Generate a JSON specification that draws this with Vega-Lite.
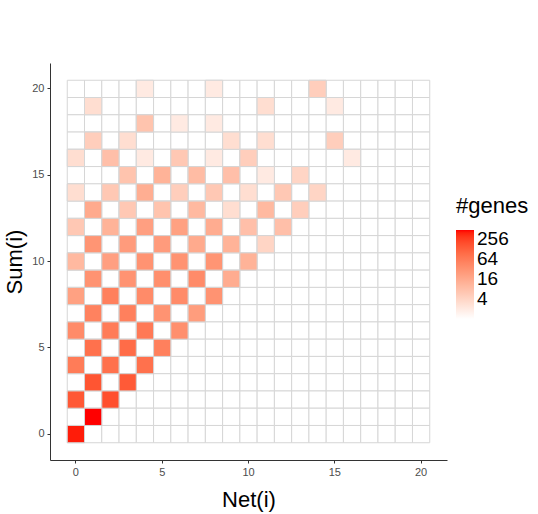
{
  "$schema": "https://vega.github.io/schema/vega-lite/v6.json",
  "width": 397,
  "height": 397,
  "autosize": "none",
  "padding": {"left": 50, "top": 63, "right": 91, "bottom": 54},
  "background": "white",
  "config": {
    "font": "Liberation Sans",
    "view": {"stroke": null},
    "axis": {
      "grid": false,
      "domainColor": "#333333",
      "domainWidth": 1,
      "tickColor": "#333333",
      "tickSize": 3,
      "labelColor": "#4D4D4D",
      "labelFontSize": 11,
      "labelFont": "Liberation Sans",
      "titleFont": "Liberation Sans",
      "titleFontSize": 22,
      "titleFontWeight": "normal",
      "titleColor": "#000000"
    }
  },
  "data": {"values": [
    {"s":20,"n":0},{"s":20,"n":1},{"s":20,"n":2},{"s":20,"n":3},{"s":20,"n":4,"g":2},{"s":20,"n":5},{"s":20,"n":6},{"s":20,"n":7},{"s":20,"n":8,"g":2},{"s":20,"n":9},{"s":20,"n":10},{"s":20,"n":11},{"s":20,"n":12},{"s":20,"n":13},{"s":20,"n":14,"g":5},{"s":20,"n":15},{"s":20,"n":16},{"s":20,"n":17},{"s":20,"n":18},{"s":20,"n":19},{"s":20,"n":20},
    {"s":19,"n":0},{"s":19,"n":1,"g":3},{"s":19,"n":2},{"s":19,"n":3},{"s":19,"n":4},{"s":19,"n":5},{"s":19,"n":6},{"s":19,"n":7},{"s":19,"n":8},{"s":19,"n":9},{"s":19,"n":10},{"s":19,"n":11,"g":3},{"s":19,"n":12},{"s":19,"n":13},{"s":19,"n":14},{"s":19,"n":15,"g":2},{"s":19,"n":16},{"s":19,"n":17},{"s":19,"n":18},{"s":19,"n":19},{"s":19,"n":20},
    {"s":18,"n":0},{"s":18,"n":1},{"s":18,"n":2},{"s":18,"n":3},{"s":18,"n":4,"g":7},{"s":18,"n":5},{"s":18,"n":6,"g":2},{"s":18,"n":7},{"s":18,"n":8,"g":2},{"s":18,"n":9},{"s":18,"n":10},{"s":18,"n":11},{"s":18,"n":12},{"s":18,"n":13},{"s":18,"n":14},{"s":18,"n":15},{"s":18,"n":16},{"s":18,"n":17},{"s":18,"n":18},{"s":18,"n":19},{"s":18,"n":20},
    {"s":17,"n":0},{"s":17,"n":1,"g":5},{"s":17,"n":2},{"s":17,"n":3,"g":3},{"s":17,"n":4},{"s":17,"n":5},{"s":17,"n":6},{"s":17,"n":7},{"s":17,"n":8},{"s":17,"n":9,"g":3},{"s":17,"n":10},{"s":17,"n":11,"g":3},{"s":17,"n":12},{"s":17,"n":13},{"s":17,"n":14},{"s":17,"n":15,"g":5},{"s":17,"n":16},{"s":17,"n":17},{"s":17,"n":18},{"s":17,"n":19},{"s":17,"n":20},
    {"s":16,"n":0,"g":3},{"s":16,"n":1},{"s":16,"n":2,"g":8},{"s":16,"n":3},{"s":16,"n":4,"g":2},{"s":16,"n":5},{"s":16,"n":6,"g":6},{"s":16,"n":7},{"s":16,"n":8,"g":2},{"s":16,"n":9},{"s":16,"n":10,"g":5},{"s":16,"n":11},{"s":16,"n":12},{"s":16,"n":13},{"s":16,"n":14},{"s":16,"n":15},{"s":16,"n":16,"g":2},{"s":16,"n":17},{"s":16,"n":18},{"s":16,"n":19},{"s":16,"n":20},
    {"s":15,"n":0},{"s":15,"n":1},{"s":15,"n":2},{"s":15,"n":3,"g":7},{"s":15,"n":4},{"s":15,"n":5,"g":12},{"s":15,"n":6},{"s":15,"n":7,"g":9},{"s":15,"n":8},{"s":15,"n":9,"g":8},{"s":15,"n":10},{"s":15,"n":11,"g":2},{"s":15,"n":12},{"s":15,"n":13,"g":4},{"s":15,"n":14},{"s":15,"n":15},{"s":15,"n":16},{"s":15,"n":17},{"s":15,"n":18},{"s":15,"n":19},{"s":15,"n":20},
    {"s":14,"n":0,"g":3},{"s":14,"n":1},{"s":14,"n":2,"g":6},{"s":14,"n":3},{"s":14,"n":4,"g":14},{"s":14,"n":5},{"s":14,"n":6,"g":5},{"s":14,"n":7},{"s":14,"n":8,"g":6},{"s":14,"n":9},{"s":14,"n":10,"g":3},{"s":14,"n":11},{"s":14,"n":12,"g":6},{"s":14,"n":13},{"s":14,"n":14,"g":4},{"s":14,"n":15},{"s":14,"n":16},{"s":14,"n":17},{"s":14,"n":18},{"s":14,"n":19},{"s":14,"n":20},
    {"s":13,"n":0},{"s":13,"n":1,"g":16},{"s":13,"n":2},{"s":13,"n":3,"g":6},{"s":13,"n":4},{"s":13,"n":5,"g":7},{"s":13,"n":6},{"s":13,"n":7,"g":10},{"s":13,"n":8},{"s":13,"n":9,"g":3},{"s":13,"n":10},{"s":13,"n":11,"g":10},{"s":13,"n":12},{"s":13,"n":13,"g":5},{"s":13,"n":14},{"s":13,"n":15},{"s":13,"n":16},{"s":13,"n":17},{"s":13,"n":18},{"s":13,"n":19},{"s":13,"n":20},
    {"s":12,"n":0,"g":6},{"s":12,"n":1},{"s":12,"n":2,"g":12},{"s":12,"n":3},{"s":12,"n":4,"g":22},{"s":12,"n":5},{"s":12,"n":6,"g":21},{"s":12,"n":7},{"s":12,"n":8,"g":15},{"s":12,"n":9},{"s":12,"n":10,"g":8},{"s":12,"n":11},{"s":12,"n":12,"g":8},{"s":12,"n":13},{"s":12,"n":14},{"s":12,"n":15},{"s":12,"n":16},{"s":12,"n":17},{"s":12,"n":18},{"s":12,"n":19},{"s":12,"n":20},
    {"s":11,"n":0},{"s":11,"n":1,"g":30},{"s":11,"n":2},{"s":11,"n":3,"g":25},{"s":11,"n":4},{"s":11,"n":5,"g":25},{"s":11,"n":6},{"s":11,"n":7,"g":16},{"s":11,"n":8},{"s":11,"n":9,"g":12},{"s":11,"n":10},{"s":11,"n":11,"g":4},{"s":11,"n":12},{"s":11,"n":13},{"s":11,"n":14},{"s":11,"n":15},{"s":11,"n":16},{"s":11,"n":17},{"s":11,"n":18},{"s":11,"n":19},{"s":11,"n":20},
    {"s":10,"n":0,"g":10},{"s":10,"n":1},{"s":10,"n":2,"g":22},{"s":10,"n":3},{"s":10,"n":4,"g":32},{"s":10,"n":5},{"s":10,"n":6,"g":32},{"s":10,"n":7},{"s":10,"n":8,"g":30},{"s":10,"n":9},{"s":10,"n":10,"g":12},{"s":10,"n":11},{"s":10,"n":12},{"s":10,"n":13},{"s":10,"n":14},{"s":10,"n":15},{"s":10,"n":16},{"s":10,"n":17},{"s":10,"n":18},{"s":10,"n":19},{"s":10,"n":20},
    {"s":9,"n":0},{"s":9,"n":1,"g":32},{"s":9,"n":2},{"s":9,"n":3,"g":32},{"s":9,"n":4},{"s":9,"n":5,"g":36},{"s":9,"n":6},{"s":9,"n":7,"g":40},{"s":9,"n":8},{"s":9,"n":9,"g":15},{"s":9,"n":10},{"s":9,"n":11},{"s":9,"n":12},{"s":9,"n":13},{"s":9,"n":14},{"s":9,"n":15},{"s":9,"n":16},{"s":9,"n":17},{"s":9,"n":18},{"s":9,"n":19},{"s":9,"n":20},
    {"s":8,"n":0,"g":21},{"s":8,"n":1},{"s":8,"n":2,"g":55},{"s":8,"n":3},{"s":8,"n":4,"g":40},{"s":8,"n":5},{"s":8,"n":6,"g":40},{"s":8,"n":7},{"s":8,"n":8,"g":32},{"s":8,"n":9},{"s":8,"n":10},{"s":8,"n":11},{"s":8,"n":12},{"s":8,"n":13},{"s":8,"n":14},{"s":8,"n":15},{"s":8,"n":16},{"s":8,"n":17},{"s":8,"n":18},{"s":8,"n":19},{"s":8,"n":20},
    {"s":7,"n":0},{"s":7,"n":1,"g":52},{"s":7,"n":2},{"s":7,"n":3,"g":55},{"s":7,"n":4},{"s":7,"n":5,"g":32},{"s":7,"n":6},{"s":7,"n":7,"g":24},{"s":7,"n":8},{"s":7,"n":9},{"s":7,"n":10},{"s":7,"n":11},{"s":7,"n":12},{"s":7,"n":13},{"s":7,"n":14},{"s":7,"n":15},{"s":7,"n":16},{"s":7,"n":17},{"s":7,"n":18},{"s":7,"n":19},{"s":7,"n":20},
    {"s":6,"n":0,"g":40},{"s":6,"n":1},{"s":6,"n":2,"g":63},{"s":6,"n":3},{"s":6,"n":4,"g":67},{"s":6,"n":5},{"s":6,"n":6,"g":36},{"s":6,"n":7},{"s":6,"n":8},{"s":6,"n":9},{"s":6,"n":10},{"s":6,"n":11},{"s":6,"n":12},{"s":6,"n":13},{"s":6,"n":14},{"s":6,"n":15},{"s":6,"n":16},{"s":6,"n":17},{"s":6,"n":18},{"s":6,"n":19},{"s":6,"n":20},
    {"s":5,"n":0},{"s":5,"n":1,"g":85},{"s":5,"n":2},{"s":5,"n":3,"g":96},{"s":5,"n":4},{"s":5,"n":5,"g":55},{"s":5,"n":6},{"s":5,"n":7},{"s":5,"n":8},{"s":5,"n":9},{"s":5,"n":10},{"s":5,"n":11},{"s":5,"n":12},{"s":5,"n":13},{"s":5,"n":14},{"s":5,"n":15},{"s":5,"n":16},{"s":5,"n":17},{"s":5,"n":18},{"s":5,"n":19},{"s":5,"n":20},
    {"s":4,"n":0,"g":63},{"s":4,"n":1},{"s":4,"n":2,"g":85},{"s":4,"n":3},{"s":4,"n":4,"g":85},{"s":4,"n":5},{"s":4,"n":6},{"s":4,"n":7},{"s":4,"n":8},{"s":4,"n":9},{"s":4,"n":10},{"s":4,"n":11},{"s":4,"n":12},{"s":4,"n":13},{"s":4,"n":14},{"s":4,"n":15},{"s":4,"n":16},{"s":4,"n":17},{"s":4,"n":18},{"s":4,"n":19},{"s":4,"n":20},
    {"s":3,"n":0},{"s":3,"n":1,"g":170},{"s":3,"n":2},{"s":3,"n":3,"g":150},{"s":3,"n":4},{"s":3,"n":5},{"s":3,"n":6},{"s":3,"n":7},{"s":3,"n":8},{"s":3,"n":9},{"s":3,"n":10},{"s":3,"n":11},{"s":3,"n":12},{"s":3,"n":13},{"s":3,"n":14},{"s":3,"n":15},{"s":3,"n":16},{"s":3,"n":17},{"s":3,"n":18},{"s":3,"n":19},{"s":3,"n":20},
    {"s":2,"n":0,"g":158},{"s":2,"n":1},{"s":2,"n":2,"g":190},{"s":2,"n":3},{"s":2,"n":4},{"s":2,"n":5},{"s":2,"n":6},{"s":2,"n":7},{"s":2,"n":8},{"s":2,"n":9},{"s":2,"n":10},{"s":2,"n":11},{"s":2,"n":12},{"s":2,"n":13},{"s":2,"n":14},{"s":2,"n":15},{"s":2,"n":16},{"s":2,"n":17},{"s":2,"n":18},{"s":2,"n":19},{"s":2,"n":20},
    {"s":1,"n":0},{"s":1,"n":1,"g":490},{"s":1,"n":2},{"s":1,"n":3},{"s":1,"n":4},{"s":1,"n":5},{"s":1,"n":6},{"s":1,"n":7},{"s":1,"n":8},{"s":1,"n":9},{"s":1,"n":10},{"s":1,"n":11},{"s":1,"n":12},{"s":1,"n":13},{"s":1,"n":14},{"s":1,"n":15},{"s":1,"n":16},{"s":1,"n":17},{"s":1,"n":18},{"s":1,"n":19},{"s":1,"n":20},
    {"s":0,"n":0,"g":420},{"s":0,"n":1},{"s":0,"n":2},{"s":0,"n":3},{"s":0,"n":4},{"s":0,"n":5},{"s":0,"n":6},{"s":0,"n":7},{"s":0,"n":8},{"s":0,"n":9},{"s":0,"n":10},{"s":0,"n":11},{"s":0,"n":12},{"s":0,"n":13},{"s":0,"n":14},{"s":0,"n":15},{"s":0,"n":16},{"s":0,"n":17},{"s":0,"n":18},{"s":0,"n":19},{"s":0,"n":20}
  ]},
  "encoding": {
    "x": {
      "field": "n", "type": "ordinal",
      "scale": {"domain": [0,1,2,3,4,5,6,7,8,9,10,11,12,13,14,15,16,17,18,19,20], "paddingInner": 0, "paddingOuter": 1.05},
      "axis": {"title": "Net(i)", "values": [0,5,10,15,20], "labelAngle": 0, "labelPadding": 3, "titlePadding": 12}
    },
    "y": {
      "field": "s", "type": "ordinal",
      "scale": {"domain": [20,19,18,17,16,15,14,13,12,11,10,9,8,7,6,5,4,3,2,1,0], "paddingInner": 0, "paddingOuter": 1.05},
      "axis": {"title": "Sum(i)", "values": [0,5,10,15,20], "labelPadding": 3, "titlePadding": 5}
    }
  },
  "layer": [
    {
      "mark": {"type": "rect", "fill": "#ffffff", "stroke": "#d6d6d6", "strokeWidth": 1}
    },
    {
      "transform": [{"filter": "isValid(datum.g)"}],
      "mark": {"type": "rect", "stroke": "#d6d6d6", "strokeWidth": 1},
      "encoding": {
        "fill": {
          "field": "g", "type": "quantitative",
          "scale": {"type": "log", "domainMin": 1, "range": ["#ffffff", "#ff0000"], "interpolate": "lab"},
          "legend": {
            "title": "#genes",
            "values": [4, 16, 64, 256],
            "orient": "none",
            "legendX": 406,
            "legendY": 133,
            "direction": "vertical",
            "gradientLength": 89,
            "gradientThickness": 18,
            "gradientStrokeWidth": 0,
            "titleFontSize": 22,
            "titleFontWeight": "normal",
            "titleColor": "#000000",
            "titlePadding": 12,
            "labelFontSize": 19,
            "labelColor": "#000000",
            "labelOverlap": false,
            "labelOffset": 3
          }
        }
      }
    }
  ]
}
